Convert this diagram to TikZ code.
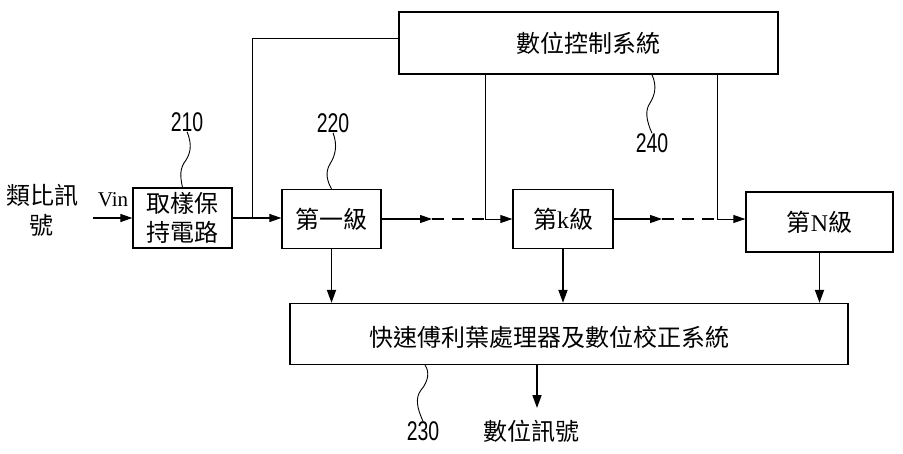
\documentclass[tikz,border=0pt]{standalone}
\usepackage{fontspec}
\setmainfont{Liberation Serif}
\newfontfamily\cjk{Noto Sans CJK TC}
\newfontfamily\numfont[FakeStretch=0.72]{Liberation Sans}
\usetikzlibrary{arrows.meta,calc}
\begin{document}
\begin{tikzpicture}[x=1pt,y=-1pt,
  ln/.style={line width=1.2pt},
  cln/.style={line width=1pt},
  arr/.style={ln,-{Triangle[length=12pt,width=8pt]}},
  carr/.style={cln,-{Triangle[length=12pt,width=8pt]}},
  darr/.style={line width=1.7pt,-{Triangle[length=13pt,width=9pt]}},
  thinln/.style={line width=0.9pt},
  blk/.style={draw,line width=1.3pt,inner sep=0pt,align=center,font={\cjk\fontsize{24}{29}\selectfont}},
  lbl/.style={inner sep=0pt,align=center,font={\cjk\fontsize{24}{30}\selectfont}},
  num/.style={inner sep=0pt,font={\numfont\fontsize{27}{27}\selectfont}}]
\useasboundingbox (0,0) rectangle (903,453);
\fill[white] (0,0) rectangle (903,453);
% blocks
\node[blk,minimum width=379pt,minimum height=62pt] (ctrl) at (588.5,43) {數位控制系統};
\node[blk,minimum width=99pt,minimum height=60pt] (sh) at (182.5,218) {取樣保\\持電路};
\node[blk,minimum width=99pt,minimum height=59pt] (s1) at (331.5,219) {第一級};
\node[blk,minimum width=100pt,minimum height=59pt] (sk) at (563,219) {第{\rmfamily k}級};
\node[blk,minimum width=147pt,minimum height=60pt] (sN) at (819.5,222) {第{\rmfamily N}級};
\node[blk,minimum width=558pt,minimum height=61pt] (fft) at (569,334) {};
\node[lbl] (fftt) at (549,337) {快速傅利葉處理器及數位校正系統};
% texts
\node[lbl] (ain) at (42,210) {類比訊\\號};
\node[inner sep=0pt,font=\fontsize{21}{21}\selectfont] (vin) at (113,200) {Vin};
\node[lbl] (out) at (531,431) {數位訊號};
\node[num] (l210) at (187,122) {210};
\node[num] (l220) at (333,123) {220};
\node[num] (l240) at (652,143) {240};
\node[num] (l230) at (423,431) {230};
% coordinates
\coordinate (in) at (93,218);
\coordinate (j) at (252,218);
\coordinate (a1) at (432,219);
\coordinate (vk) at (485,219);
\coordinate (a2) at (662,219);
\coordinate (vN) at (717,219);
\coordinate (o) at (537,408);
% connectors
\draw[arr] (in) -- (sh.west);
\draw[arr] (sh.east) -- (s1.west |- sh.east);
\draw[cln] ([yshift=5pt]ctrl.west) -| (j);
\draw[arr] (s1.east) -- (a1);
\draw[ln,dash pattern=on 12pt off 8pt] (a1) -- (vk);
\draw[carr] (ctrl.south -| vk) |- (sk.west);
\draw[arr] (sk.east) -- (a2);
\draw[ln,dash pattern=on 12pt off 8pt] (a2) -- (vN);
\draw[carr] (ctrl.south -| vN) |- (sN.west |- vN);
\draw[darr] (s1.south) -- (s1.south |- fft.north);
\draw[darr] (sk.south) -- (sk.south |- fft.north);
\draw[darr] (sN.south) -- (sN.south |- fft.north);
\draw[darr] (fft.south -| o) -- (o);
% leader squiggles
\draw[thinln] (l210.south) .. controls (193,146) and (190,155) .. (184,163) .. controls (179,171) and (181,180) .. (sh.north);
\draw[thinln] (l220.south) .. controls (338,146) and (335,156) .. (330,164) .. controls (325,172) and (327,181) .. (s1.north);
\draw[thinln] ([xshift=63.5pt]ctrl.south) .. controls (657,86) and (655,95) .. (650,103) .. controls (645,110) and (646,120) .. (l240.north);
\draw[thinln] ([xshift=-144pt]fft.south) .. controls (430,372) and (428,382) .. (421,390) .. controls (415,398) and (417,408) .. (l230.north);
\end{tikzpicture}
\end{document}
